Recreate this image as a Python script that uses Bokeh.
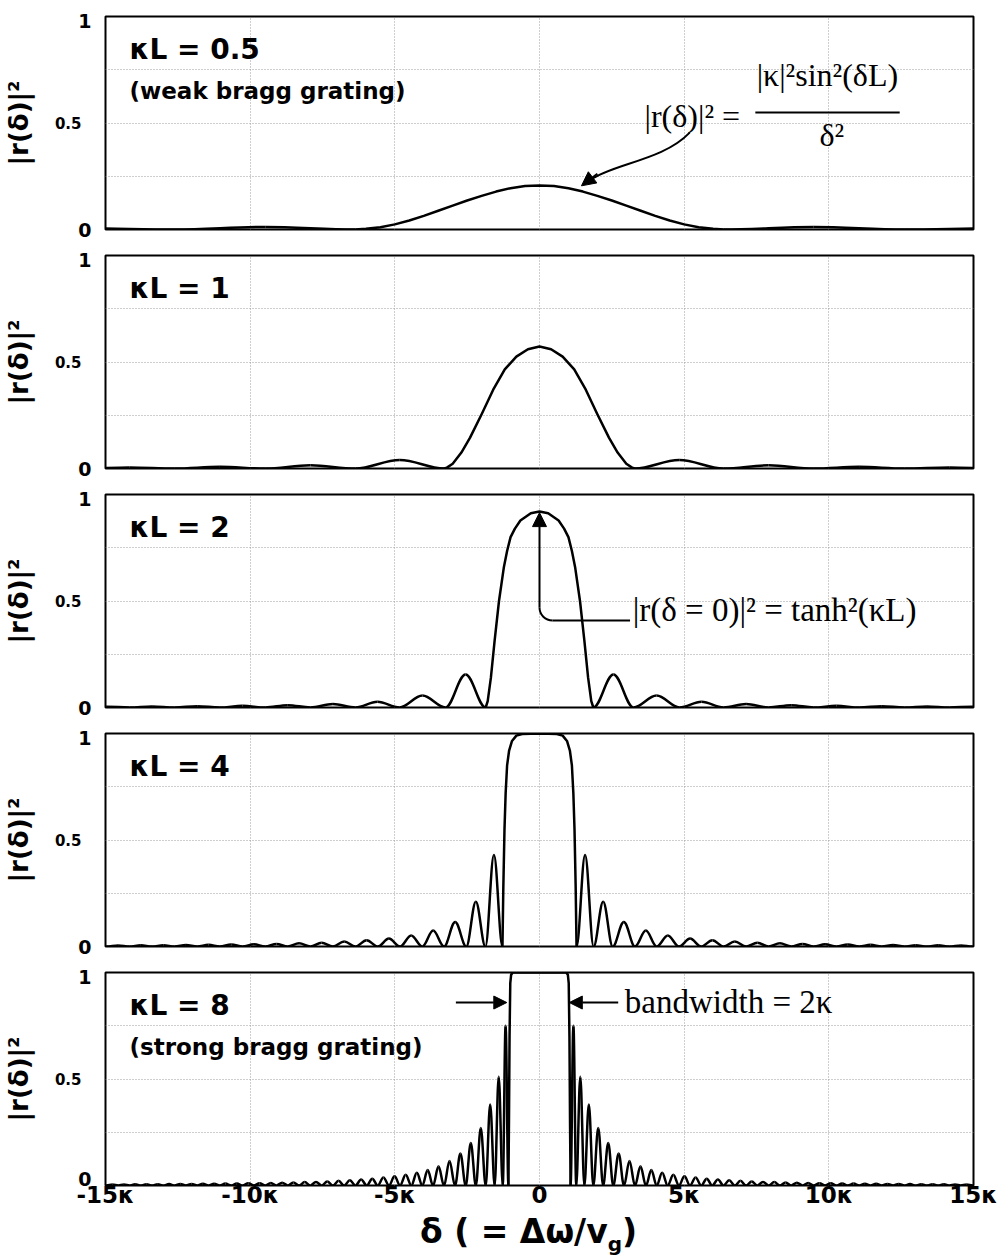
import json
from bokeh.plotting import figure
from bokeh.models import (Range1d, FixedTicker, Label, Arrow, NormalHead, LinearAxis,
                          CustomJSTickFormatter, Div)
from bokeh.layouts import column
from bokeh.embed import file_html
from bokeh.resources import INLINE

# ---------------- data ----------------
panel_titles = ["κL = 0.5", "κL = 1", "κL = 2", "κL = 4", "κL = 8"]
panel_subtitles = ["(weak bragg grating)", "", "", "", "(strong bragg grating)"]

x_tick_values = [-15, -10, -5, 0, 5, 10, 15]
x_tick_labels = ["-15κ", "-10κ", "-5κ", "0", "5κ", "10κ", "15κ"]
y_tick_values = [0, 0.5, 1]
y_tick_labels = ["0", "0.5", "1"]
y_axis_title = "|r(δ)|²"
x_axis_title = "δ ( = Δω/v"
x_axis_title_sub = "g"
x_axis_title_end = ")"

# main lobe, right half (delta in units of kappa), mirrored for the left half
main_x_05 = [0, 0.5, 1.0, 1.5, 2.0, 2.5, 3.0, 3.5, 4.0, 4.5, 5.0, 5.5, 6.0, 6.36]
main_y_05 = [0.207, 0.204, 0.194, 0.178, 0.158, 0.136, 0.112, 0.088, 0.064, 0.042, 0.024, 0.011, 0.003, 0.0]
main_x_1 = [0, 0.4, 0.8, 1.2, 1.6, 2.0, 2.4, 2.7, 3.0, 3.2, 3.3]
main_y_1 = [0.573, 0.56, 0.525, 0.465, 0.37, 0.255, 0.145, 0.075, 0.022, 0.004, 0.0]
main_x_2 = [0, 0.3, 0.66, 0.85, 1.0, 1.12, 1.23, 1.4, 1.55, 1.68, 1.79, 1.86]
main_y_2 = [0.92, 0.912, 0.878, 0.84, 0.80, 0.735, 0.66, 0.50, 0.315, 0.14, 0.03, 0.0]
main_x_4 = [0, 0.6, 0.8, 0.95, 1.05, 1.12, 1.17, 1.21, 1.25, 1.28]
main_y_4 = [1.0, 0.998, 0.99, 0.965, 0.92, 0.85, 0.72, 0.55, 0.28, 0.0]
main_x_8 = [0, 0.92, 0.98, 1.01, 1.035, 1.055, 1.074]
main_y_8 = [1.0, 1.0, 0.99, 0.95, 0.7, 0.3, 0.0]

# side lobes: zero positions (right side) and the peak height between each pair
zeros_05 = [6.36, 12.6, 18.9]
peaks_05 = [0.012, 0.005]
zeros_1 = [3.3, 6.36, 9.48, 12.61, 15.74]
peaks_1 = [0.04, 0.015, 0.008, 0.005]
zeros_2 = [1.86, 3.25, 4.84, 6.36, 7.92, 9.48, 11.05, 12.61, 14.17, 15.74]
peaks_2 = [0.155, 0.056, 0.027, 0.016, 0.011, 0.008, 0.006, 0.005, 0.004]
zeros_4 = [1.28, 1.87, 2.53, 3.3, 4.05, 4.82, 5.59, 6.36, 7.14, 7.92, 8.70, 9.48,
           10.26, 11.05, 11.83, 12.61, 13.39, 14.17, 14.96, 15.74]
peaks_4 = [0.43, 0.21, 0.115, 0.075, 0.052, 0.037, 0.029, 0.023, 0.018, 0.015,
           0.012, 0.010, 0.009, 0.008, 0.007, 0.006, 0.0055, 0.005, 0.0045]
zeros_8 = [1.074, 1.27, 1.55, 1.86, 2.20, 2.55, 2.92, 3.30, 3.68, 4.05, 4.43, 4.82,
           5.20, 5.59, 5.97, 6.36, 6.75, 7.14, 7.53, 7.92, 8.31, 8.70, 9.09, 9.48,
           9.87, 10.26, 10.66, 11.05, 11.44, 11.83, 12.22, 12.61, 13.0, 13.39,
           13.78, 14.17, 14.56, 14.96, 15.35]
peaks_8 = [0.75, 0.51, 0.38, 0.27, 0.2, 0.15, 0.115, 0.09, 0.073, 0.06, 0.05, 0.043,
           0.037, 0.032, 0.028, 0.025, 0.022, 0.019, 0.017, 0.016, 0.014, 0.013,
           0.012, 0.011, 0.010, 0.0095, 0.009, 0.0085, 0.008, 0.0075, 0.007,
           0.0065, 0.006, 0.0057, 0.0054, 0.0051, 0.0048, 0.0045]

panels = [
    (main_x_05, main_y_05, zeros_05, peaks_05),
    (main_x_1, main_y_1, zeros_1, peaks_1),
    (main_x_2, main_y_2, zeros_2, peaks_2),
    (main_x_4, main_y_4, zeros_4, peaks_4),
    (main_x_8, main_y_8, zeros_8, peaks_8),
]

# ---------------- layout / styling ----------------
BOLD = "DejaVu Sans"
SERIF = "Liberation Serif"
FIG_W = 1005
BORDER_L, BORDER_R = 102, 32          # -> frame 871 px wide
FRAME_H = 213
ROW_BORDERS = [(16, 12), (14, 12), (14, 12), (14, 12), (14, 30)]   # (top, bottom)
TITLE_H = 40
CURVE_W = 2.5


def add_label(p, x, y, text, size, font=BOLD, style="bold", align="left",
              baseline="alphabetic"):
    p.add_layout(Label(x=x, y=y, text=text, text_font=font, text_font_style=style,
                       text_font_size=size, text_align=align, text_baseline=baseline,
                       text_color="black"))


def style_axis(ax, size, standoff):
    ax.major_label_text_font = BOLD
    ax.major_label_text_font_style = "bold"
    ax.major_label_text_font_size = size
    ax.major_label_text_color = "black"
    ax.major_label_standoff = standoff
    ax.axis_line_color = None
    ax.major_tick_line_color = None
    ax.minor_tick_line_color = None
    ax.major_tick_out = 0
    ax.major_tick_in = 0
    ax.minor_tick_out = 0
    ax.minor_tick_in = 0


def draw_curve(p, mx, my, zeros, peaks):
    xs = [-v for v in reversed(mx)] + mx[1:]
    ys = list(reversed(my)) + my[1:]
    p.line(xs, ys, line_color="black", line_width=CURVE_W, line_join="round")
    x0, y0, x1, y1, cx0, cy0, cx1, cy1 = ([] for _ in range(8))
    k = 0.36
    for s in (1, -1):
        for i, h in enumerate(peaks):
            a, b = zeros[i], zeros[i + 1]
            m = 0.5 * (a + b)
            d = m - a
            x0 += [s * a, s * m]; y0 += [0, h]
            x1 += [s * m, s * b]; y1 += [h, 0]
            cx0 += [s * (a + k * d), s * (m + k * d)]; cy0 += [0, h]
            cx1 += [s * (m - k * d), s * (b - k * d)]; cy1 += [h, 0]
    p.bezier(x0=x0, y0=y0, x1=x1, y1=y1, cx0=cx0, cy0=cy0, cx1=cx1, cy1=cy1,
             line_color="black", line_width=CURVE_W)


y_end_labels = json.dumps({str(v): t for v, t in zip(y_tick_values, y_tick_labels)})
x_labels_js = json.dumps({str(v): t for v, t in zip(x_tick_values, x_tick_labels)})

figs = []
n = len(panels)
for i, (mx, my, zs, pk) in enumerate(panels):
    last = i == n - 1
    top, bot = ROW_BORDERS[i]
    h = top + FRAME_H + bot
    p = figure(width=FIG_W, height=h, x_range=Range1d(-15, 15), y_range=Range1d(0, 1),
               output_backend="svg", toolbar_location=None,
               min_border_left=BORDER_L, min_border_right=BORDER_R,
               min_border_top=top, min_border_bottom=bot)
    p.xgrid.ticker = FixedTicker(ticks=[-10, -5, 0, 5, 10])
    p.ygrid.ticker = FixedTicker(ticks=[0.25, 0.5, 0.75])
    p.grid.grid_line_color = "#9c9c9c"
    p.grid.grid_line_dash = "1 2"
    p.grid.grid_line_width = 1
    p.outline_line_color = "black"
    p.outline_line_width = 2
    p.background_fill_color = "white"
    p.border_fill_color = "white"

    # inner y axis: "0" and "1" (placed where the picture prints them)
    inner = p.yaxis[0]
    lo_tick = 0.03 if last else 0.0
    inner.ticker = FixedTicker(ticks=[lo_tick, 0.98])
    inner.formatter = CustomJSTickFormatter(
        code="const L = %s; return tick > 0.5 ? L['1'] : L['0'];" % y_end_labels)
    style_axis(inner, "19px", 14)

    # outer y axis: "0.5" (smaller) and the axis title
    outer = LinearAxis(ticker=FixedTicker(ticks=[0.5]),
                       formatter=CustomJSTickFormatter(
                           code="const L = %s; return L['0.5'];" % y_end_labels),
                       axis_label=y_axis_title)
    style_axis(outer, "15px", -6)
    outer.axis_label_text_font = BOLD
    outer.axis_label_text_font_style = "bold"
    outer.axis_label_text_font_size = "26px"
    outer.axis_label_text_color = "black"
    outer.axis_label_standoff = 18
    p.add_layout(outer, "left")

    if last:
        xa = p.xaxis[0]
        xa.ticker = FixedTicker(ticks=x_tick_values)
        xa.formatter = CustomJSTickFormatter(
            code="const L = %s; return L[String(tick)];" % x_labels_js)
        style_axis(xa, "23px", -4)
    else:
        p.xaxis.visible = False

    draw_curve(p, mx, my, zs, pk)

    add_label(p, -14.17, 0.847, panel_titles[i], "28px")
    if panel_subtitles[i]:
        add_label(p, -14.17, 0.648, panel_subtitles[i], "23px")
    figs.append(p)

# x axis title (with the subscript g) as real HTML text
title_html = ('<div style="margin-left:415px; font-family:\'DejaVu Sans\'; font-weight:bold; '
              'font-size:33px; line-height:24px; white-space:nowrap; color:black;">'
              + x_axis_title + '<sub style="font-size:20px; vertical-align:-8px;">'
              + x_axis_title_sub + '</sub>' + x_axis_title_end + '</div>')
title_div = Div(text=title_html, width=FIG_W, height=TITLE_H)

# ---------------- annotations ----------------
# panel 1: formula with curved arrow
p1 = figs[0]
add_label(p1, 3.63, 0.535, "|r(δ)|² =", "32px", font=SERIF, style="normal")
add_label(p1, 9.95, 0.725, "|κ|²sin²(δL)", "32px", font=SERIF, style="normal", align="center")
add_label(p1, 10.1, 0.446, "δ²", "32px", font=SERIF, style="normal", align="center")
p1.segment(x0=[7.46], y0=[0.549], x1=[12.45], y1=[0.549], line_color="black", line_width=2)
p1.bezier(x0=[5.19], y0=[0.455], x1=[1.75], y1=[0.232], cx0=[4.27], cy0=[0.324],
          cx1=[2.55], cy1=[0.31], line_color="black", line_width=2)
p1.add_layout(Arrow(end=NormalHead(size=14, fill_color="black", line_color="black"),
                    x_start=2.0, y_start=0.262, x_end=1.45, y_end=0.205,
                    line_color="black", line_width=2))

# panel 3: tanh^2 arrow
p3 = figs[2]
p3.add_layout(Arrow(end=NormalHead(size=14, fill_color="black", line_color="black"),
                    x_start=0, y_start=0.469, x_end=0, y_end=0.915,
                    line_color="black", line_width=2))
p3.bezier(x0=[0], y0=[0.469], x1=[0.45], y1=[0.408], cx0=[0], cy0=[0.435],
          cx1=[0.2], cy1=[0.408], line_color="black", line_width=2)
p3.segment(x0=[0.45], y0=[0.408], x1=[3.13], y1=[0.408], line_color="black", line_width=2)
add_label(p3, 3.22, 0.456, "|r(δ = 0)|² = tanh²(κL)", "33px", font=SERIF, style="normal")

# panel 5: bandwidth arrows
p5 = figs[4]
p5.add_layout(Arrow(end=NormalHead(size=13, fill_color="black", line_color="black"),
                    x_start=-2.89, y_start=0.859, x_end=-1.13, y_end=0.859,
                    line_color="black", line_width=2))
p5.add_layout(Arrow(end=NormalHead(size=13, fill_color="black", line_color="black"),
                    x_start=2.72, y_start=0.859, x_end=1.03, y_end=0.859,
                    line_color="black", line_width=2))
add_label(p5, 2.95, 0.862, "bandwidth = 2κ", "33px", font=SERIF, style="normal")

layout = column(*figs, title_div, spacing=0)
open("out.html", "w").write(file_html(layout, INLINE))
